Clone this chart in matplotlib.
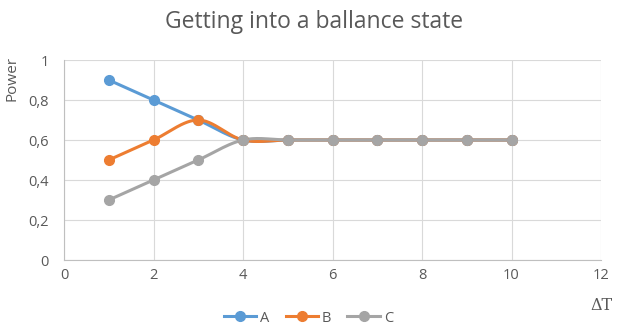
import numpy as np
import matplotlib.pyplot as plt
from matplotlib.ticker import FuncFormatter

# step index and power of each node
steps = [1, 2, 3, 4, 5, 6, 7, 8, 9, 10]
power_a = [0.9, 0.8, 0.7, 0.6, 0.6, 0.6, 0.6, 0.6, 0.6, 0.6]
power_b = [0.5, 0.6, 0.7, 0.6, 0.6, 0.6, 0.6, 0.6, 0.6, 0.6]
power_c = [0.3, 0.4, 0.5, 0.6, 0.6, 0.6, 0.6, 0.6, 0.6, 0.6]

series = [("A", power_a, "#5B9BD5"), ("B", power_b, "#ED7D31"), ("C", power_c, "#A5A5A5")]


def smooth(xs, ys, n=30):
    """Bezier smoothing through the points, like spreadsheet smoothed lines."""
    p = np.column_stack([xs, ys]).astype(float)
    out = [p[0]]
    for i in range(len(p) - 1):
        p0 = p[i - 1] if i > 0 else p[i]
        p1, p2 = p[i], p[i + 1]
        p3 = p[i + 2] if i + 2 < len(p) else p[i + 1]
        c1 = p1 + (p2 - p0) / 6
        c2 = p2 - (p3 - p1) / 6
        t = np.linspace(0, 1, n)[1:, None]
        seg = ((1 - t) ** 3) * p1 + 3 * ((1 - t) ** 2) * t * c1 + 3 * (1 - t) * t ** 2 * c2 + t ** 3 * p2
        out.extend(seg)
    out = np.array(out)
    return out[:, 0], out[:, 1]


plt.rcParams['font.family'] = ['Open Sans', 'DejaVu Sans']
text_color = '#595959'

fig = plt.figure(figsize=(6.17, 3.26), dpi=100)
ax = fig.add_axes([64 / 617, 66 / 326, 537 / 617, 200 / 326])

for name, vals, color in series:
    sx, sy = smooth(steps, vals)
    ax.plot(sx, sy, color=color, lw=2.2, solid_capstyle='round', zorder=3)
    ax.plot(steps, vals, 'o', color=color, ms=7, zorder=4)
    # legend proxy
    ax.plot([], [], '-o', color=color, lw=2.2, ms=7, label=name)

ax.set_xlim(0, 12)
ax.set_ylim(0, 1)
ax.set_xticks(range(0, 13, 2))
ax.set_yticks(np.arange(0, 1.01, 0.2))
ax.yaxis.set_major_formatter(FuncFormatter(lambda v, _: ('%g' % round(v, 1)).replace('.', ',')))
ax.grid(True, color='#D9D9D9', lw=0.8)
ax.set_axisbelow(True)
for side in ['top', 'right']:
    ax.spines[side].set_visible(False)
for side in ['left', 'bottom']:
    ax.spines[side].set_color('#BFBFBF')
    ax.spines[side].set_linewidth(0.8)
ax.tick_params(length=0, labelsize=10.5, colors=text_color)
ax.tick_params(axis='x', pad=6)
ax.tick_params(axis='y', pad=11)

fig.text(314 / 617, 1 - 22 / 326, 'Getting into a ballance state', ha='center', va='center',
         fontsize=16.5, color=text_color)
fig.text(12 / 617, 1 - 78 / 326, 'Power', rotation=90, ha='center', va='center',
         fontsize=11, color=text_color)
fig.text(601 / 617, 1 - 305 / 326, '\u0394T', ha='center', va='center',
         fontsize=11.5, color=text_color, family='DejaVu Serif')

fig.legend(loc='center', bbox_to_anchor=(0.5, 8 / 326), ncol=3, frameon=False,
           fontsize=10.5, labelcolor=text_color, handlelength=2.2, handletextpad=0.3,
           columnspacing=1.1)

fig.savefig('out.png', dpi=100)
